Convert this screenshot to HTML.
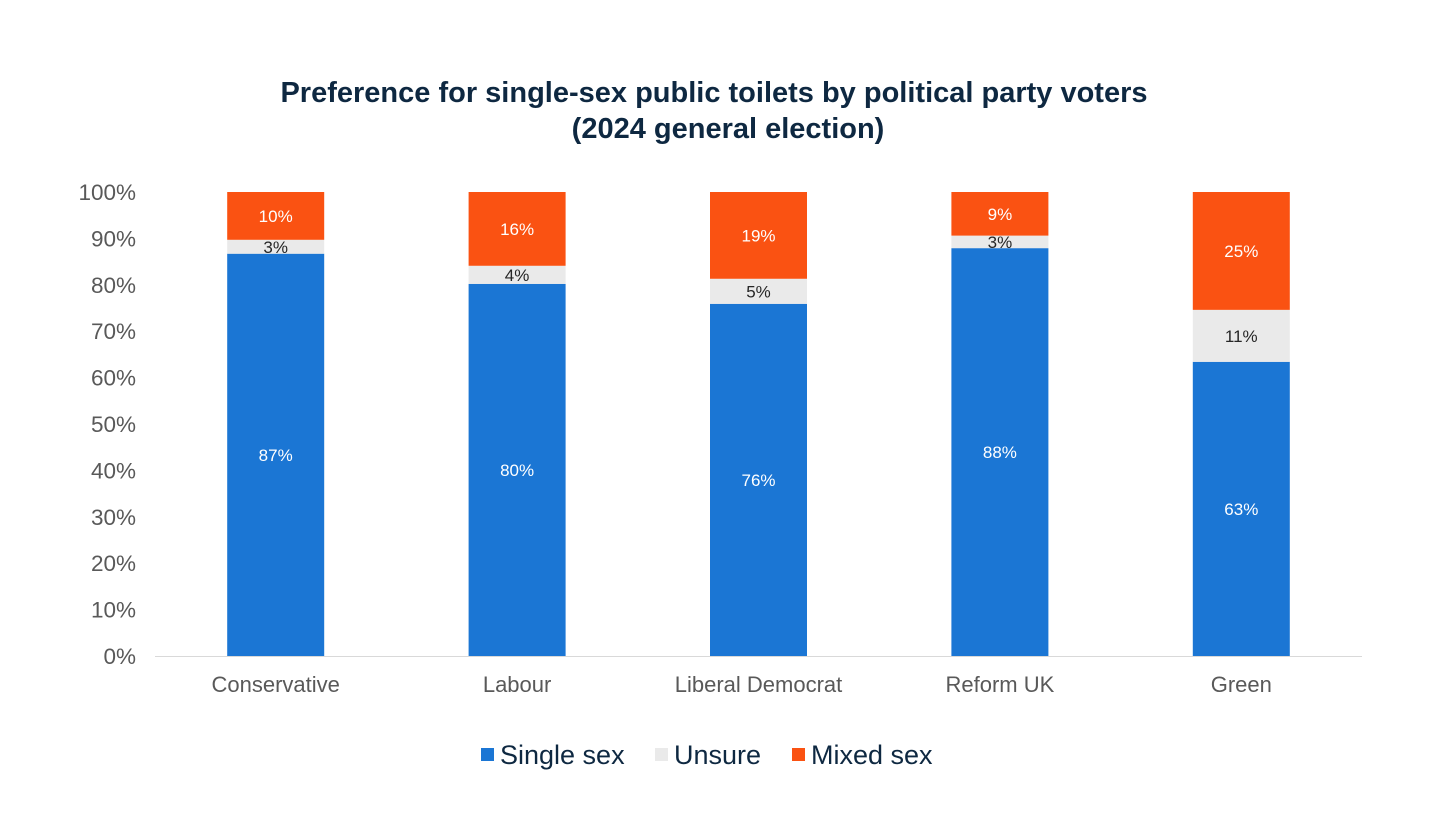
<!DOCTYPE html>
<html><head><meta charset="utf-8"><style>
body{margin:0;background:#fff;font-family:"Liberation Sans",Arial,sans-serif;}
svg{display:block}
</style></head><body>
<svg id="chart" width="1456" height="819" xmlns="http://www.w3.org/2000/svg">
<text x="714" y="102" text-anchor="middle" font-size="29" font-weight="bold" fill="#0e2841">Preference for single-sex public toilets by political party voters</text>
<text x="728" y="138" text-anchor="middle" font-size="29" font-weight="bold" fill="#0e2841">(2024 general election)</text>
<g id="yaxis"></g><g id="bars"></g><g id="xaxis"></g>
<g>
<rect x="481" y="748" width="13" height="13" fill="#1b76d4"/>
<text x="500" y="764" font-size="27" fill="#0e2841">Single sex</text>
<rect x="655" y="748" width="13" height="13" fill="#eaeaea"/>
<text x="674" y="764" font-size="27" fill="#0e2841">Unsure</text>
<rect x="792" y="748" width="13" height="13" fill="#fa5212"/>
<text x="811" y="764" font-size="27" fill="#0e2841">Mixed sex</text>
</g>
</svg>
<script>
const categories=["Conservative","Labour","Liberal Democrat","Reform UK","Green"];
const singleSex=[86.7,80.2,75.9,87.9,63.4];
const unsure=[3.0,3.9,5.4,2.7,11.2];
const mixedSex=[10.3,15.9,18.7,9.4,25.4];
const yTicks=[0,10,20,30,40,50,60,70,80,90,100];
const NS="http://www.w3.org/2000/svg";
const x0=155,x1=1362,yBase=656,yTop=192,barW=97;
const y=v=>yBase-(v/100)*(yBase-yTop);
const band=(x1-x0)/categories.length;
const xc=i=>x0+band*(i+0.5);
function mk(tag,attrs,parent,text){const e=document.createElementNS(NS,tag);for(const k in attrs)e.setAttribute(k,attrs[k]);if(text!==undefined)e.textContent=text;parent.appendChild(e);return e;}
const ya=document.getElementById('yaxis'),bg=document.getElementById('bars'),xa=document.getElementById('xaxis');
yTicks.forEach(t=>{const e=mk('text',{x:136,y:y(t)+8,'text-anchor':'end','font-size':22.5,fill:'#595959'},ya,t+'%');

});
const ax=mk('line',{x1:x0,x2:x1,y1:yBase+0.5,y2:yBase+0.5,stroke:'#d9d9d9','stroke-width':1},xa);


const series=[[singleSex,'#1b76d4','#fff','single-sex'],[unsure,'#eaeaea','#262626','unsure'],[mixedSex,'#fa5212','#fff','mixed-sex']];
categories.forEach((c,i)=>{let cum=0;
series.forEach(([arr,col,tc,nm])=>{const v=arr[i];const top=y(cum+v),bot=y(cum);
const r=mk('rect',{x:xc(i)-barW/2,y:top,width:barW,height:bot-top,fill:col},bg);


const l=mk('text',{x:xc(i),y:(top+bot)/2+6,'text-anchor':'middle','font-size':17,fill:tc},bg,Math.round(v)+'%');


cum+=v;});
const cl=mk('text',{x:xc(i),y:692,'text-anchor':'middle','font-size':22,fill:'#595959'},xa,c);


});
</script>
</body></html>
